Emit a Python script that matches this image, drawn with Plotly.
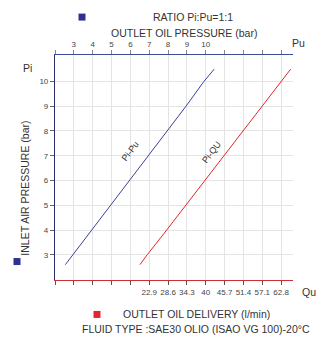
import plotly.graph_objects as go

# Inlet air pressure (bar) readings
pi_vals = [2.6, 3, 4, 5, 6, 7, 8, 9, 10, 10.5]
# Outlet oil pressure (bar) for each inlet pressure, ratio 1:1
pu_vals = [2.55, 2.95, 3.95, 4.95, 5.95, 6.95, 7.95, 8.95, 9.9, 10.45]
# Outlet oil delivery (l/min) for each inlet pressure
qu_vals = [20.1, 22.3, 28.2, 34.0, 39.8, 45.6, 51.4, 57.2, 62.9, 65.7]

pu_ticks = list(range(2, 15))
pu_labels = ["", "3", "4", "5", "6", "7", "8", "9", "10", "", "", "", ""]
qu_ticks = [-5.6, 0.1, 5.8, 11.5, 17.2, 22.9, 28.6, 34.3, 40.0, 45.7, 51.4, 57.1, 62.8]
qu_labels = ["", "", "", "", "", "22.9", "28.6", "34.3", "40", "45.7", "51.4", "57.1", "62.8"]
pi_ticks = [3, 4, 5, 6, 7, 8, 9, 10]

BLUE = "#3b4296"
RED = "#e3262d"
NAVY = "#2b2f6b"
TXT = "#333333"
FONT = "Liberation Sans, Arial, sans-serif"

fig = go.Figure()
fig.add_trace(go.Scatter(x=pu_vals, y=pi_vals, xaxis="x2", yaxis="y", mode="lines",
                         line=dict(color=BLUE, width=1), showlegend=False, hoverinfo="skip"))
fig.add_trace(go.Scatter(x=qu_vals, y=pi_vals, xaxis="x", yaxis="y", mode="lines",
                         line=dict(color=RED, width=1), showlegend=False, hoverinfo="skip"))

L, R, T, B = 55, 293, 55, 280.5
W, H = 334, 356


def px(x):
    return (x - L) / (R - L)


def py(y):
    return (B - y) / (B - T)


tickfont = dict(family=FONT, size=8, color="#444444")

fig.update_layout(
    width=W, height=H,
    margin=dict(l=L, r=W - R, t=T, b=H - B),
    paper_bgcolor="white", plot_bgcolor="white",
    font=dict(family=FONT, color=TXT),
    xaxis=dict(range=[-5.6, 66.4], tickvals=qu_ticks, ticktext=qu_labels,
               showline=True, linecolor="#c8303a", linewidth=1,
               ticks="outside", ticklen=4, tickcolor="#555555",
               showgrid=True, gridcolor="#e4e4e4", gridwidth=1,
               zeroline=False, tickfont=tickfont, fixedrange=True),
    xaxis2=dict(range=[2, 14.63], overlaying="x", side="top", anchor="y",
                tickvals=pu_ticks, ticktext=pu_labels,
                showline=True, linecolor="#3f4c9e", linewidth=1.2,
                ticks="outside", ticklen=4, tickcolor="#888888",
                showgrid=False, zeroline=False, tickfont=tickfont, fixedrange=True),
    yaxis=dict(range=[1.98, 11.07], tickvals=pi_ticks,
               showline=True, linecolor=NAVY, linewidth=1.2,
               ticks="outside", ticklen=4, tickcolor="#666666",
               showgrid=True, gridcolor="#e4e4e4", gridwidth=1,
               zeroline=False, tickfont=tickfont, fixedrange=True),
)

anns = [
    dict(text="RATIO Pi:Pu=1:1", x=px(193), y=py(17), size=10.5),
    dict(text="OUTLET OIL PRESSURE (bar)", x=px(184), y=py(33), size=10.5),
    dict(text="Pu", x=px(298), y=py(43), size=10.5),
    dict(text="Pi", x=px(27), y=py(68), size=10.5),
    dict(text="Qu", x=px(309), y=py(293), size=10.5),
    dict(text="OUTLET OIL DELIVERY (l/min)", x=px(196), y=py(315), size=10.5),
    dict(text="FLUID TYPE :SAE30 OLIO (ISAO VG 100)-20°C", x=px(196), y=py(330), size=10.5),
]
for a in anns:
    fig.add_annotation(text=a["text"], x=a["x"], y=a["y"], xref="paper", yref="paper",
                       showarrow=False, font=dict(family=FONT, size=a["size"], color=TXT),
                       xanchor="center", yanchor="middle")

fig.add_annotation(text="INLET AIR PRESSURE (bar)", x=px(17), y=py(189), xref="paper", yref="paper",
                   showarrow=False, textangle=-90,
                   font=dict(family=FONT, size=10.5, color=TXT))

# curve labels along each line
fig.add_annotation(text="Pi-Pu", x=6.0, y=7.2, xref="x2", yref="y", showarrow=False,
                   textangle=-53, font=dict(family=FONT, size=9, color=TXT))
fig.add_annotation(text="Pi-QU", x=41.8, y=7.16, xref="x", yref="y", showarrow=False,
                   textangle=-53, font=dict(family=FONT, size=9, color=TXT))

# colour keys
for cx, cy, col in [(82, 17, "#2e3192"), (17, 262, "#2e3192"), (97, 315, RED)]:
    fig.add_shape(type="rect", xref="paper", yref="paper",
                  x0=px(cx - 3.5), x1=px(cx + 3.5), y0=py(cy + 3.5), y1=py(cy - 3.5),
                  fillcolor=col, line=dict(width=0))

fig.write_html("out.html")
